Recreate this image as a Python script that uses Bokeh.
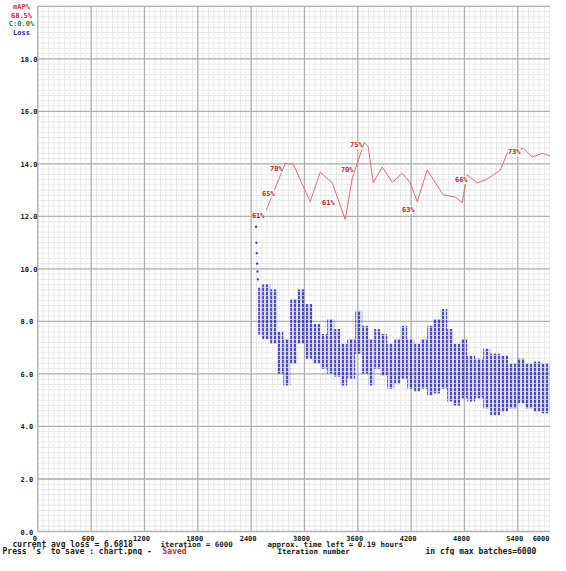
import numpy as np
from bokeh.plotting import figure
from bokeh.models import Range1d
from bokeh.core.properties import value
from bokeh.embed import file_html
from bokeh.resources import INLINE

# ---------------- data ----------------
x_ticks = [0, 600, 1200, 1800, 2400, 3000, 3600, 4200, 4800, 5400]
x_tick_labels = ["0", "600", "1200", "1800", "2400", "3000", "3600", "4200", "4800", "5400"]
x_last_tick_label = "6000"
y_ticks = [0, 2, 4, 6, 8, 10, 12, 14, 16, 18]
y_tick_labels = ["0.0", "2.0", "4.0", "6.0", "8.0", "10.0", "12.0", "14.0", "16.0", "18.0"]
max_img_loss = 20.0
max_batches = 6000

# mAP (%) measured during training
map_iter = [2570, 2649, 2739, 2784, 2874, 3065, 3178, 3313, 3459, 3538, 3594, 3673, 3718,
            3774, 3875, 3988, 4100, 4190, 4269, 4381, 4561, 4696, 4775, 4831, 4944, 5034,
            5203, 5281, 5461, 5562, 5675, 5799, 5877, 5945]
map_pct = [61.2, 64.5, 68.2, 70.1, 69.9, 62.8, 68.4, 66.4, 59.4, 67.3, 70.1, 74.1, 73.2,
           66.4, 69.4, 66.5, 68.2, 66.4, 62.8, 68.8, 64.1, 63.7, 62.6, 67.9, 66.4, 66.9,
           68.8, 72.0, 73.0, 71.3, 72.0, 71.3, 67.3, 68.8]

# mAP annotations (where they are printed, and their text)
map_label_iter = [2480, 2593, 2683, 3268, 3481, 3583, 4168, 4764, 5360]
map_label_pct = [60.1, 64.3, 69.0, 62.6, 68.8, 73.5, 61.2, 66.9, 72.2]
map_label_text = ["61%", "65%", "70%", "61%", "70%", "75%", "63%", "66%", "73%"]

# avg loss: first few iterations after resume
loss_head_iter = [2456, 2460, 2464, 2468, 2472, 2476]
loss_head_val = [11.6, 11.0, 10.6, 10.2, 9.9, 9.6]

# avg loss: spread (low / high) inside consecutive iteration buckets
loss_edges = [2480, 2525, 2615, 2694, 2762, 2840, 2919, 3009, 3088, 3178, 3256, 3335, 3403,
              3481, 3571, 3650, 3718, 3785, 3853, 3931, 4010, 4078, 4156, 4235, 4303, 4381,
              4449, 4528, 4606, 4674, 4753, 4831, 4921, 5011, 5090, 5202, 5292, 5394, 5484,
              5574, 5664, 5765, 5855, 5945]
loss_lo = [7.5, 7.33, 7.15, 6.01, 5.56, 6.39, 7.15, 6.58, 6.39, 6.20, 6.01, 5.90, 5.56,
           5.82, 6.77, 6.01, 5.56, 6.20, 5.94, 5.44, 5.63, 5.82, 5.44, 5.33, 5.44, 5.18,
           5.26, 5.44, 4.95, 4.80, 5.07, 4.95, 5.07, 4.69, 4.42, 4.57, 4.69, 4.88, 4.69,
           4.57, 4.50, 4.69, 5.26]
loss_hi = [9.3, 9.41, 9.22, 7.60, 7.33, 8.85, 9.22, 8.66, 7.90, 7.52, 8.09, 7.71, 7.15,
           7.33, 8.39, 7.83, 7.33, 7.71, 7.52, 7.15, 7.33, 7.83, 7.33, 7.15, 7.33, 7.83,
           8.09, 8.47, 7.71, 7.15, 7.33, 6.69, 6.58, 6.96, 6.77, 6.69, 6.39, 6.58, 6.39,
           6.47, 6.39, 6.58, 6.77]

legend_lines = ["mAP%", "68.5%", "C:0.0%", "Loss"]
legend_colors = ["#c83a3a", "#d02525", "#1f8a1f", "#2222b0"]

status_avg_loss = "current avg loss = 6.6818"
status_iter = "iteration = 6000"
status_time = "approx. time left = 0.19 hours"
status_save = "Press 's' to save : chart.png - "
status_saved = "Saved"
x_title = "Iteration number"
cfg_text = "in cfg max_batches=6000"

# ---------------- geometry (figure pixels) ----------------
W, H = 550, 555
ORIGIN_X, ORIGIN_Y = 37.3, 531.0     # pixel of (iteration 0, loss 0)
TOP_18_Y = 58.3                      # pixel of loss 18.0
PX_ITER = 53.33 / 600.0
PX_UNIT = (ORIGIN_Y - TOP_18_Y) / 18.0

def px2x(px):
    return (px - ORIGIN_X) / PX_ITER

def py2y(py):
    return (ORIGIN_Y - py) / PX_UNIT

x_range = Range1d(px2x(0), px2x(W))
y_range = Range1d(py2y(H), py2y(0))

p = figure(width=W, height=H, x_range=x_range, y_range=y_range,
           output_backend="svg", toolbar_location=None,
           x_axis_type=None, y_axis_type=None, min_border=0,
           outline_line_color=None, background_fill_color="white",
           border_fill_color="white")
p.grid.visible = False

# ---------------- grid ----------------
minor_x = np.arange(0, max_batches + 1, max_batches / 100)
minor_y = np.arange(0, max_img_loss + 0.001, max_img_loss / 100)
p.segment(x0=minor_x, y0=0, x1=minor_x, y1=max_img_loss, line_color="#e8e8e8", line_width=1)
p.segment(x0=0, y0=minor_y, x1=max_batches, y1=minor_y, line_color="#e8e8e8", line_width=1)
major_x = np.arange(0, max_batches + 1, max_batches / 10)
major_y = np.arange(0, max_img_loss + 0.001, max_img_loss / 10)
p.segment(x0=major_x, y0=0, x1=major_x, y1=max_img_loss, line_color="#b0b0b0", line_width=1.3)
p.segment(x0=0, y0=major_y, x1=max_batches, y1=major_y, line_color="#b0b0b0", line_width=1.3)

# ---------------- loss ----------------
p.quad(left=loss_edges[:-1], right=loss_edges[1:], bottom=loss_lo, top=loss_hi,
       fill_color="#8a8ae8", fill_alpha=0.3, line_color=None,
       hatch_pattern="vertical_dash", hatch_color="#2020a8", hatch_scale=4.0,
       hatch_weight=1.6, hatch_alpha=0.95)
p.scatter(loss_head_iter, loss_head_val, size=2, marker="square",
          color="#3030b8", line_color=None)

# ---------------- mAP ----------------
scale = max_img_loss / 100.0
p.line(map_iter, [v * scale for v in map_pct], line_color="#d87070", line_width=1)
p.text(x=map_label_iter, y=[v * scale for v in map_label_pct], text=map_label_text,
       text_font=value("DejaVu Sans Mono"), text_font_style="bold", text_font_size="7px",
       text_color="#c82020", text_align="center", text_baseline="middle",
       background_fill_color="white", background_fill_alpha=0.85)

# ---------------- tick labels ----------------
FONT = value("DejaVu Sans Mono")
p.text(x=[0] * len(y_ticks), y=y_ticks, text=y_tick_labels, x_offset=-17.3,
       text_font=FONT, text_font_style="bold", text_font_size="7px",
       text_color="#1a1a1a", text_align="left", text_baseline="middle")
p.text(x=x_ticks, y=py2y(537), text=x_tick_labels, x_offset=-3,
       text_font=FONT, text_font_style="bold", text_font_size="7px",
       text_color="#1a1a1a", text_align="center", text_baseline="middle")
# last tick label sits at the right edge (it is cut in the original)
p.text(x=[px2x(W - 1)], y=[py2y(537)], text=[x_last_tick_label],
       text_font=FONT, text_font_style="bold", text_font_size="7px",
       text_color="#1a1a1a", text_align="right", text_baseline="middle")

# ---------------- legend (top-left) ----------------
p.text(x=px2x(21), y=[py2y(v) for v in (6.5, 15, 23.5, 32.5)], text=legend_lines,
       text_font=FONT, text_font_style="bold", text_font_size="7px",
       text_color=legend_colors, text_align="center", text_baseline="middle")

# ---------------- status lines ----------------
def status(px, py, txt, color="#1a1a1a", size="7.5px"):
    p.text(x=[px2x(px)], y=[py2y(py)], text=[txt], text_font=FONT, text_font_style="bold",
           text_font_size=size, text_color=color, text_align="left", text_baseline="middle")

status(12, 544, status_avg_loss, size="8px")
status(160, 544, status_iter)
status(267, 544, status_time)
status(2, 551, status_save, size="8px")
status(162, 551, status_saved, color="#e02020", size="8px")
status(277, 551, x_title)
status(425, 551, cfg_text, size="8px")

open("out.html", "w").write(file_html(p, INLINE))
